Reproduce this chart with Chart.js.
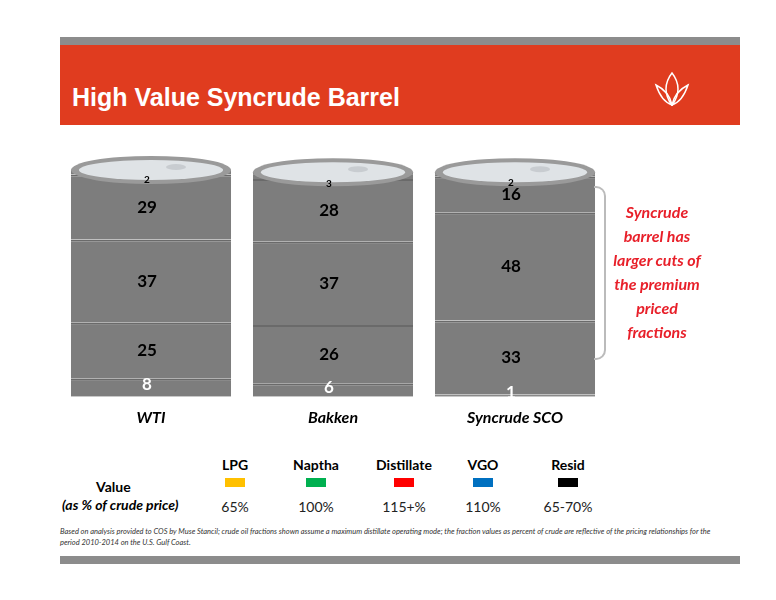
<!DOCTYPE html>
<html><head><meta charset="utf-8">
<script src="https://cdn.jsdelivr.net/npm/chart.js@4"></script>
<style>
body{margin:0;background:#fff;font-family:Lato,"Open Sans",sans-serif;}
#wrap{position:relative;width:776px;height:600px;}
.topbar{position:absolute;left:60px;top:37px;width:680px;height:8px;background:#8c8c8c;}
.header{position:absolute;left:60px;top:45px;width:680px;height:80px;background:#e03c1f;}
.header h1{position:absolute;left:12px;top:38px;margin:0;color:#fff;font:bold 25px "Liberation Sans",Arial,sans-serif;}
.bot{position:absolute;left:60px;top:556px;width:680px;height:8px;background:#8c8c8c;}
#cv{position:absolute;left:60px;top:150px;}
.side{position:absolute;left:612px;top:200px;width:90px;text-align:center;color:#e8202a;font:italic bold 16px Lato,sans-serif;line-height:24px;}
.brace{position:absolute;left:594px;top:186px;width:10px;height:170px;border:2px solid #bbb;border-left:none;border-radius:0 10px 10px 0;}
.lg{position:absolute;font:bold 14px Lato,sans-serif;color:#000;text-align:center;width:80px;}
.pct{position:absolute;font:14px Lato,sans-serif;color:#222;text-align:center;width:80px;}
.sw{position:absolute;width:20px;height:9px;}
.note{position:absolute;left:60px;top:526px;width:670px;font:italic 7.5px Lato,sans-serif;color:#333;line-height:11px;}
</style></head><body><div id="wrap">
<div class="topbar"></div><div class="header"><h1>High Value Syncrude Barrel</h1>
<svg style="position:absolute;left:592px;top:24px" width="40" height="40" viewBox="0 0 40 40" fill="none" stroke="#fff" stroke-width="1.5"><path d="M20 4 C12 14 12 26 20 36 C28 26 28 14 20 4Z"/><path d="M4 16 C8 28 14 34 20 36 C18 26 12 20 4 16Z"/><path d="M36 16 C32 28 26 34 20 36 C22 26 28 20 36 16Z"/></svg></div>
<canvas id="cv" width="546" height="280"></canvas>
<div class="brace"></div>
<div class="side">Syncrude barrel has larger cuts of the premium priced fractions</div>
<div style="position:absolute;left:96px;top:478px;font:bold 14px Lato,sans-serif;">Value</div>
<div style="position:absolute;left:62px;top:496px;font:italic bold 14px Lato,sans-serif;">(as % of crude price)</div>
<div id="legend"></div>
<div class="note">Based on analysis provided to COS by Muse Stancil; crude oil fractions shown assume a maximum distillate operating mode; the fraction values as percent of crude are reflective of the pricing relationships for the period 2010-2014 on the U.S. Gulf Coast.</div>
<div class="bot"></div>
</div>
<script>
const categories=["WTI","Bakken","Syncrude SCO"];
const resid=[8,6,1];
const vgo=[25,26,33];
const distillate=[37,37,48];
const naptha=[29,28,16];
const lpg=[2,3,2];
const fractions=["LPG","Naptha","Distillate","VGO","Resid"];
const fracColors=["#ffc000","#00b050","#ff0000","#0070c0","#000000"];
const fracValues=["65%","100%","115+%","110%","65-70%"];
const lgX=[195,276,364,443,528];
const L=document.getElementById('legend');
fractions.forEach((f,i)=>{
 L.insertAdjacentHTML('beforeend',`<div class="lg" style="left:${lgX[i]}px;top:456px">${f}</div><div class="sw" style="left:${lgX[i]+30}px;top:478px;background:${fracColors[i]}"></div><div class="pct" style="left:${lgX[i]}px;top:498px">${fracValues[i]}</div>`);
});
const series=[resid,vgo,distillate,naptha,lpg];
const labelPlug={id:'lbl',afterDatasetsDraw(c){
 const ctx=c.ctx;ctx.save();
 const last=c.getDatasetMeta(4).data;
 last.forEach((b,i)=>{
  const w=b.width,x=b.x,top=b.y;
  ctx.fillStyle='#9a9a9a';ctx.beginPath();ctx.ellipse(x,top,w/2,14,0,0,2*Math.PI);ctx.fill();
  ctx.fillStyle='#dfe3e6';ctx.beginPath();ctx.ellipse(x,top,w/2-8,10,0,0,2*Math.PI);ctx.fill();
  ctx.fillStyle='#c8ccd0';ctx.beginPath();ctx.ellipse(x+25,top-3,10,3,0,0,2*Math.PI);ctx.fill();
 });
 c.data.datasets.forEach((ds,di)=>{
  c.getDatasetMeta(di).data.forEach((b,i)=>{
   const v=ds.data[i];
   const y=(b.y+b.base)/2;
   ctx.fillStyle=di===0?'#fff':'#000';
   ctx.font=(di===4?'bold 10px ':'bold 17px ')+'Lato,sans-serif';
   ctx.textAlign='center';ctx.textBaseline='middle';
   ctx.fillText(v,b.x-4,di===4?y+8:(di===0?y-3:y));
  });
 });
 ctx.restore();}};
new Chart(document.getElementById('cv'),{type:'bar',
 data:{labels:categories,datasets:series.map((d,i)=>({label:fractions[4-i],data:d,backgroundColor:'#7d7d7d',borderColor:'#6a6a6a',borderWidth:{top:2,bottom:0,left:0,right:0},borderSkipped:false,categoryPercentage:0.88,barPercentage:1}))},
 options:{responsive:false,animation:false,layout:{padding:{top:20}},
  plugins:{legend:{display:false},tooltip:{enabled:false}},
  scales:{x:{stacked:true,grid:{display:false},border:{display:false},ticks:{color:'#000',font:{family:'Lato',size:16,style:'italic',weight:'bold'}}},
   y:{stacked:true,display:false,min:0,max:101}}},
 plugins:[labelPlug]});
</script></body></html>
